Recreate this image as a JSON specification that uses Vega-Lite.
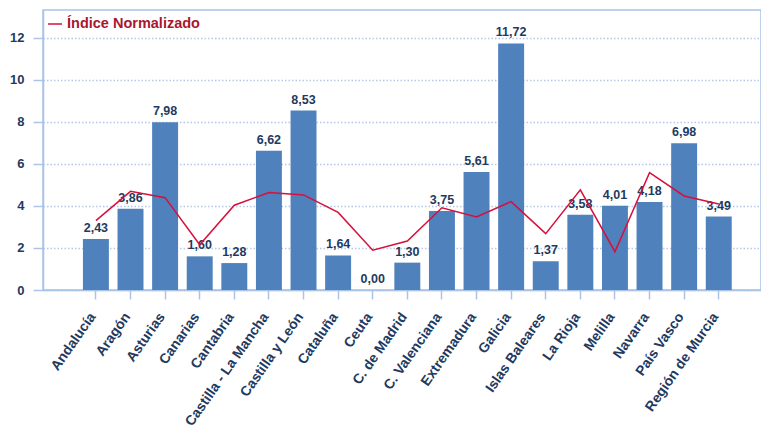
{
  "$schema": "https://vega.github.io/schema/vega-lite/v6.json",
  "width": 718,
  "height": 280,
  "autosize": "none",
  "padding": {"left": 43, "top": 10, "right": 0, "bottom": 141},
  "background": "white",
  "config": {
    "view": {"stroke": "#A9C4E8", "strokeWidth": 1.5},
    "font": "Liberation Sans",
    "locale": {
      "number": {"decimal": ",", "thousands": ".", "grouping": [3], "currency": ["", " €"]}
    }
  },
  "data": {
    "values": [
      {"region": "Andalucía", "valor": 2.43, "indice": 3.30},
      {"region": "Aragón", "valor": 3.86, "indice": 4.69},
      {"region": "Asturias", "valor": 7.98, "indice": 4.39},
      {"region": "Canarias", "valor": 1.60, "indice": 2.15},
      {"region": "Cantabria", "valor": 1.28, "indice": 4.03},
      {"region": "Castilla - La Mancha", "valor": 6.62, "indice": 4.63},
      {"region": "Castilla y León", "valor": 8.53, "indice": 4.52},
      {"region": "Cataluña", "valor": 1.64, "indice": 3.69},
      {"region": "Ceuta", "valor": 0.00, "indice": 1.89},
      {"region": "C. de Madrid", "valor": 1.30, "indice": 2.33},
      {"region": "C. Valenciana", "valor": 3.75, "indice": 3.91},
      {"region": "Extremadura", "valor": 5.61, "indice": 3.47},
      {"region": "Galicia", "valor": 11.72, "indice": 4.20},
      {"region": "Islas Baleares", "valor": 1.37, "indice": 2.68},
      {"region": "La Rioja", "valor": 3.58, "indice": 4.76},
      {"region": "Melilla", "valor": 4.01, "indice": 1.82},
      {"region": "Navarra", "valor": 4.18, "indice": 5.58},
      {"region": "País Vasco", "valor": 6.98, "indice": 4.47},
      {"region": "Región de Murcia", "valor": 3.49, "indice": 4.09}
    ]
  },
  "encoding": {
    "x": {
      "field": "region",
      "type": "nominal",
      "sort": null,
      "title": null,
      "scale": {"paddingInner": 0.25, "paddingOuter": 1.04, "align": 0.577},
      "axis": {
        "labelAngle": -55,
        "labelAlign": "right",
        "labelBaseline": "middle",
        "labelFont": "Liberation Sans",
        "labelFontSize": 14,
        "labelFontWeight": "bold",
        "labelColor": "#1F3A60",
        "labelPadding": 15,
        "labelOffset": -3,
        "labelOverlap": false,
        "tickSize": 9,
        "tickColor": "#A9C4E8",
        "tickWidth": 1.5,
        "domainColor": "#A9C4E8",
        "domainWidth": 1.5,
        "grid": false
      }
    }
  },
  "layer": [
    {
      "mark": {"type": "bar", "color": "#4F81BD"},
      "encoding": {
        "y": {
          "field": "valor",
          "type": "quantitative",
          "title": null,
          "scale": {"domain": [0, 13.31], "nice": false},
          "axis": {
            "values": [0, 2, 4, 6, 8, 10, 12],
            "format": "d",
            "labelFont": "Liberation Sans",
            "labelFontSize": 13,
            "labelFontWeight": "bold",
            "labelColor": "#1F3A60",
            "labelPadding": 9,
            "tickSize": 10,
            "tickColor": "#A9C4E8",
            "tickWidth": 1.5,
            "domainColor": "#A9C4E8",
            "domainWidth": 1.5,
            "grid": true,
            "gridColor": "#B4C8E8",
            "gridDash": [1.5, 2],
            "gridWidth": 1.5
          }
        }
      }
    },
    {
      "mark": {"type": "text", "baseline": "alphabetic", "dy": -7, "font": "Liberation Sans", "fontSize": 12.5, "fontWeight": "bold", "color": "#1F3A60"},
      "encoding": {
        "y": {"field": "valor", "type": "quantitative"},
        "text": {"field": "valor", "type": "quantitative", "format": ".2f", "formatType": "number"}
      }
    },
    {
      "mark": {"type": "line", "strokeWidth": 1.5},
      "encoding": {
        "y": {"field": "indice", "type": "quantitative"},
        "color": {
          "datum": "Índice Normalizado",
          "scale": {"range": ["#D6103C"]},
          "legend": {
            "title": null,
            "orient": "none",
            "legendX": 4,
            "legendY": 6,
            "symbolType": "stroke",
            "symbolSize": 196,
            "symbolStrokeWidth": 1.5,
            "labelFont": "Liberation Sans",
            "labelFontSize": 14.5,
            "labelFontWeight": "bold",
            "labelColor": "#A8172E",
            "labelOffset": 4
          }
        }
      }
    }
  ]
}
